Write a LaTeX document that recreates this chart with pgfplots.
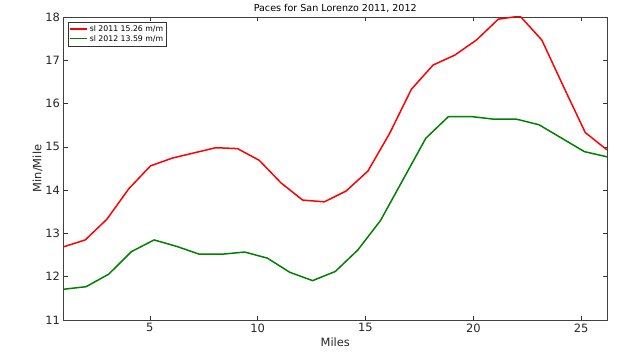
\documentclass[border=0pt]{standalone}
\usepackage{fontspec}
\setmainfont{DejaVu Sans}
\usepackage{pgfplots}
\pgfplotsset{compat=1.18}
\definecolor{mplgreen}{rgb}{0,0.5,0}
\begin{document}
\begin{tikzpicture}[x=1bp,y=1bp]
\useasboundingbox (0,0) rectangle (640,356);
\begin{axis}[
  at={(63.5bp,36bp)}, anchor=south west,
  scale only axis, width=543.5bp, height=303bp,
  xmin=1, xmax=26.2, ymin=11, ymax=18,
  xtick={5,10,15,20,25}, ytick={11,12,...,18},
  tick align=inside, major tick length=4bp,
  tick style={black!80, line width=0.5pt},
  axis line style={black!75, line width=0.8pt},
  /pgf/number format/assume math mode=true,
  ticklabel style={font=\fontsize{11.5}{12}\selectfont, text=black!85},
  xlabel={Miles}, ylabel={Min/Mile},
  label style={font=\fontsize{11.5}{12}\selectfont, text=black!85},
  xlabel style={yshift=1bp},
  ylabel style={yshift=-4bp},
  title={Paces for San Lorenzo 2011, 2012},
  title style={font=\fontsize{9.6}{10}\selectfont, yshift=-5.5bp},
  legend style={font=\fontsize{7.8}{8.5}\selectfont, draw=black!80, line width=0.5pt, inner sep=1.5pt, row sep=-1.5pt, at={(0.008,0.985)}, anchor=north west, cells={anchor=west}},
  legend image post style={line width=1.2pt},
  legend image code/.code={\draw[#1] (0bp,0bp) -- (13bp,0bp); \path (0bp,0bp) -- (17bp,0bp);},
  clip=true,
]
\addplot[red, line width=1.5pt] coordinates {
(1.000,12.69) (2.008,12.85) (3.016,13.33) (4.024,14.03) (5.032,14.56)
(6.040,14.74) (7.048,14.86) (8.056,14.98) (9.064,14.96) (10.072,14.69)
(11.080,14.17) (12.088,13.77) (13.096,13.73) (14.104,13.98) (15.112,14.44)
(16.120,15.31) (17.128,16.33) (18.136,16.89) (19.144,17.12) (20.152,17.47)
(21.160,17.95) (22.168,18.02) (23.176,17.47) (24.184,16.39) (25.192,15.33)
(26.200,14.93)
};
\addlegendentry{sl 2011 15.26 m/m}
\addplot[mplgreen, line width=1.5pt] coordinates {
(1.00,11.71) (2.05,11.77) (3.10,12.06) (4.15,12.58) (5.20,12.85)
(6.25,12.70) (7.30,12.52) (8.35,12.52) (9.40,12.57) (10.45,12.43)
(11.50,12.10) (12.55,11.91) (13.60,12.12) (14.65,12.62) (15.70,13.30)
(16.75,14.25) (17.80,15.20) (18.85,15.70) (19.90,15.70) (20.95,15.64)
(22.00,15.64) (23.05,15.51) (24.10,15.20) (25.15,14.89) (26.20,14.77)
};
\addlegendentry{sl 2012 13.59 m/m}
\end{axis}
\end{tikzpicture}
\end{document}
